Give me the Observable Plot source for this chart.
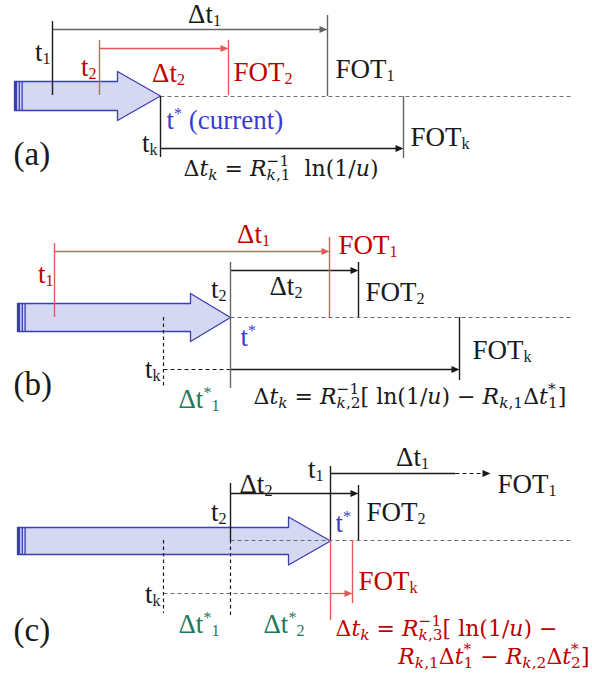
<!DOCTYPE html>
<html><head><meta charset="utf-8">
<script src="https://cdn.jsdelivr.net/npm/d3@7"></script>
<script src="https://cdn.jsdelivr.net/npm/@observablehq/plot@0.6"></script>
<style>
body{margin:0;background:#fff}
#chart svg{display:block}
#chart text{white-space:pre}
</style>
</head><body><div id="chart"></div>
<script>
// ---------- data ----------
// colour keys
const tones = {black:"#1a1a1a", gray:"#666666", grid:"#6e6e6e", red:"#e05a5a", redText:"#c00000",
  blue:"#3b3bd0", green:"#1d7a5b", arrowFill:"#d5d8f3", arrowStroke:"#3a3fb0"};

// horizontal time intervals: [start, end, level, tone, dashed, arrowhead]
const intervalsA = [[52,327,29,"gray",0,1],[99,228,48,"red",0,1],[160,403,148,"black",0,1],[160,572,96,"grid",1,0]];
const intervalsB = [[54,329,251,"red",0,1],[230,358,270,"black",0,1],[163,230,369,"black",1,0],[230,459,369,"black",0,1],[230,572,317,"grid",1,0]];
const intervalsC = [[330,455,473,"black",0,0],[455,490,473,"black",1,1],[230,358,493,"black",0,1],[163,330,593,"grid",1,0],[330,352,593,"red",0,1],[230,572,540,"grid",1,0]];

// event markers (vertical): [time, top, bottom, tone, dashed]
const eventsA = [[52,21,95,"black",0],[327,15,96,"gray",0],[99,40,95,"red",0],[228,40,95,"red",0],[160,96,157,"black",0],[403,96,158,"gray",0]];
const eventsB = [[54,243,317,"red",0],[329,237,317,"red",0],[230,262,388,"gray",0],[358,262,317,"black",0],[163,317,388,"black",1],[459,317,380,"black",0]];
const eventsC = [[330,466,540,"black",0],[330,540,620,"red",0],[358,485,540,"black",0],[230,483,540,"black",0],[230,540,617,"black",1],[163,540,613,"black",1],[352,540,603,"red",0]];

// current-time arrows: [tail, headStart, tip(t*), level, shaftHalf, headHalf]
const progressArrows = [[14,117,160,95.5,14.5,24.5],[17,190,230,317,14,24],[17,288,330,540.5,13.5,24]];

// labels: [x, y, text, anchor, tone]
const labels = [
  [204,22,"Δt_{1}","middle","black"],[50,60,"t_{1}","end","black"],[96,75,"t_{2}","end","redText"],
  [168,81,"Δt_{2}","middle","redText"],[233,80,"FOT_{2}","start","redText"],[335,77,"FOT_{1}","start","black"],
  [166,128,"t^{*} (current)","start","blue"],[157,151,"t_{k}","end","black"],[410,145,"FOT_{k}","start","black"],
  [253,242,"Δt_{1}","middle","redText"],[338,253,"FOT_{1}","start","redText"],[53,282,"t_{1}","end","redText"],
  [226,297,"t_{2}","end","black"],[269,294,"Δt_{2}","start","black"],[365,300,"FOT_{2}","start","black"],
  [240,345,"t^{*}","start","blue"],[160,377,"t_{k}","end","black"],[472,358,"FOT_{k}","start","black"],
  [178,407,"Δt^{*}_{1}","start","green"],
  [323,477,"t_{1}","end","black"],[412,465,"Δt_{1}","middle","black"],[497,492,"FOT_{1}","start","black"],
  [239,492,"Δt_{2}","start","black"],[226,520,"t_{2}","end","black"],[366,520,"FOT_{2}","start","black"],
  [335,531,"t^{*}","start","blue"],[358,589,"FOT_{k}","start","redText"],[160,602,"t_{k}","end","black"],
  [178,632,"Δt^{*}_{1}","start","green"],[263,632,"Δt^{*}_{2}","start","green"]
];
const panelLabels = [[13,164,"(a)"],[13,394,"(b)"],[13,640,"(c)"]];
// formulas ($ toggles italic)
const formulas = [
  [183,175,"Δ$t$_{$k$} = $R$^{−1}_{$k$,1}  ln(1/$u$)","start","black"],
  [253,403,"Δ$t$_{$k$} = $R$^{−1}_{$k$,2}[ ln(1/$u$) − $R$_{$k$,1}Δ$t$^{*}_{1}]","start","black"],
  [335,635,"Δ$t$_{$k$} = $R$^{−1}_{$k$,3}[ ln(1/$u$) −","start","redText"],
  [589,663,"$R$_{$k$,1}Δ$t$^{*}_{1} − $R$_{$k$,2}Δ$t$^{*}_{2}]","end","redText"]
];

// ---------- derived geometry ----------
const intervals = [...intervalsA, ...intervalsB, ...intervalsC].map(([x1,x2,y,tone,dash,head]) => ({x1,x2,y,tone,dash,head}));
const events = [...eventsA, ...eventsB, ...eventsC].map(([x,y1,y2,tone,dash]) => ({x,y1,y2,tone,dash}));
const headLen = 8, headW = 3.6;
const heads = intervals.filter(d => d.head).flatMap((d, i) => [
  {id:i, x:d.x2, y:d.y, tone:d.tone}, {id:i, x:d.x2-headLen, y:d.y-headW, tone:d.tone}, {id:i, x:d.x2-headLen, y:d.y+headW, tone:d.tone}]);
const arrowPoly = progressArrows.flatMap(([t0,h,tip,cy,s,hh], i) => [
  [t0,cy-s],[h,cy-s],[h,cy-hh],[tip,cy],[h,cy+hh],[h,cy+s],[t0,cy+s]].map(([x,y]) => ({id:i,x,y})));
const stripes = progressArrows.flatMap(([t0,h,tip,cy,s]) => [
  {x:t0+1.3, y1:cy-s, y2:cy+s, w:2.7},{x:t0+4.8, y1:cy-s, y2:cy+s, w:1.2},{x:t0+7.6, y1:cy-s, y2:cy+s, w:1.3}]);
const toRow = ([x,y,text,anchor,tone]) => ({x,y,text,anchor,tone});

const col = k => tones[k];
const serif = "Liberation Serif";
const mathFont = "DejaVu Serif";

const textMark = (rows, anchor, opts) => Plot.text(rows.filter(d => d.anchor === anchor),
  {x:"x", y:"y", text:"text", fill: d => col(d.tone), textAnchor: anchor, lineAnchor:"bottom", ...opts});

const labelRows = labels.map(toRow), formulaRows = formulas.map(toRow);

const chart = Plot.plot({
  width: 592, height: 677, margin: 0,
  x: {domain:[0,592], range:[0,592], axis:null},
  y: {domain:[0,677], range:[0,677], axis:null},
  color: {type:"identity"},
  style: {background:"#fff", overflow:"visible"},
  marks: [
    Plot.line(arrowPoly, {x:"x", y:"y", z:"id", curve:"linear-closed", fill:tones.arrowFill, stroke:tones.arrowStroke, strokeWidth:1.3}),
    Plot.ruleX(stripes.filter(d => d.w > 2), {x:"x", y1:"y1", y2:"y2", stroke:tones.arrowStroke, strokeWidth:2.7}),
    Plot.ruleX(stripes.filter(d => d.w <= 2), {x:"x", y1:"y1", y2:"y2", stroke:tones.arrowStroke, strokeWidth:1.3}),
    Plot.link(intervals.filter(d => !d.dash), {x1:"x1", x2: d => d.head ? d.x2 - headLen + 1 : d.x2, y1:"y", y2:"y", stroke: d => col(d.tone), strokeWidth:1.3}),
    Plot.link(intervals.filter(d => d.dash), {x1:"x1", x2: d => d.head ? d.x2 - headLen + 1 : d.x2, y1:"y", y2:"y", stroke: d => col(d.tone), strokeWidth:1.2, strokeDasharray:"4,3"}),
    Plot.line(heads, {x:"x", y:"y", z:"id", curve:"linear-closed", fill: d => col(d.tone), stroke:"none"}),
    Plot.ruleX(events.filter(d => !d.dash), {x:"x", y1:"y1", y2:"y2", stroke: d => col(d.tone), strokeWidth: 1.4}),
    Plot.ruleX(events.filter(d => d.dash), {x:"x", y1:"y1", y2:"y2", stroke: d => col(d.tone), strokeWidth: 1.2, strokeDasharray:"3.5,3"}),
    ...["start","middle","end"].map(a => textMark(labelRows, a, {fontSize:27, fontFamily:serif})),
    Plot.text(panelLabels.map(([x,y,text]) => ({x,y,text})), {x:"x", y:"y", text:"text", textAnchor:"start", lineAnchor:"bottom", fontSize:33, fontFamily:serif, fill:tones.black}),
    ...["start","end"].map(a => textMark(formulaRows, a, {fontSize:22, fontFamily:mathFont}))
  ]
});
document.getElementById("chart").appendChild(chart);

// ---------- rich text (sub/superscripts) ----------
const ns = "http://www.w3.org/2000/svg";
function parseRich(s) {
  const runs = []; let italic = false, i = 0, group = 0, lastEnd = -1;
  while (i < s.length) {
    const c = s[i];
    if (c === "$") { italic = !italic; i++; continue; }
    if ((c === "_" || c === "^") && s[i+1] === "{") {
      const j = s.indexOf("}", i + 2);
      const pos = c === "_" ? "sub" : "sup";
      const follows = lastEnd === i;
      group++;
      let it = italic, buf = "", first = true;
      const flush = () => { if (buf) { runs.push({text:buf, italic:it, pos, group, follows: follows && first}); first = false; buf = ""; } };
      for (const ch of s.slice(i + 2, j)) { if (ch === "$") { flush(); it = !it; } else buf += ch; }
      flush();
      i = j + 1; lastEnd = i; continue;
    }
    const last = runs[runs.length - 1];
    if (last && !last.pos && last.italic === italic) last.text += c;
    else runs.push({text:c, italic, pos:null, group:0});
    i++;
  }
  return runs;
}
function richify(t, p) {
  const src = t.textContent;
  const F = parseFloat(getComputedStyle(t).fontSize);
  const runs = parseRich(src);
  t.textContent = "";
  let cur = 0; const widths = {}; let stack = null;
  for (const r of runs) {
    const ts = document.createElementNS(ns, "tspan");
    ts.textContent = r.text;
    const off = r.pos === "sub" ? p.sub * F : r.pos === "sup" ? -p.sup * F : 0;
    if (off !== cur) { ts.setAttribute("dy", (off - cur).toFixed(2)); cur = off; }
    if (r.pos) ts.setAttribute("font-size", (p.scale * F).toFixed(2));
    if (r.italic) ts.setAttribute("font-style", "italic");
    let dx = 0;
    if (p.stack && r.follows) { dx -= widths[r.group - 1] || 0; stack = {prev: widths[r.group - 1] || 0, group: r.group}; }
    else if (stack && r.group !== stack.group) { const extra = stack.prev - (widths[stack.group] || 0); if (extra > 0) dx += extra; stack = null; }
    if (dx) ts.setAttribute("dx", dx.toFixed(2));
    t.appendChild(ts);
    widths[r.group] = (widths[r.group] || 0) + ts.getComputedTextLength();
  }
}
try {
  chart.querySelectorAll("text").forEach(t => {
    const s = t.textContent;
    if (s.includes("$")) richify(t, {sub:0.22, sup:0.42, scale:0.7, stack:true});
    else if (/[_^]\{/.test(s)) richify(t, {sub:0.14, sup:0.36, scale:0.6, stack:false});
  });
} catch (e) { console.error(e); }
</script>
</body></html>
